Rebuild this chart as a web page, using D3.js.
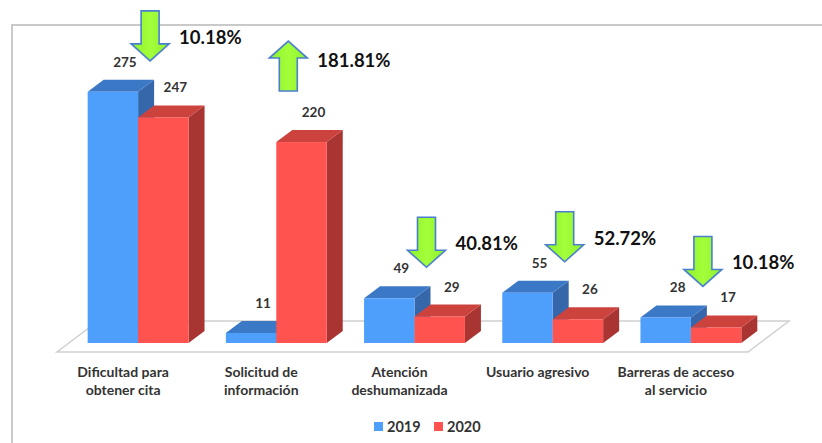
<!DOCTYPE html>
<html>
<head>
<meta charset="utf-8">
<script src="https://cdn.jsdelivr.net/npm/d3@7"></script>
<style>
  body { margin: 0; background: #fff; }
  svg { display: block; font-family: Lato, "Open Sans", sans-serif; }
</style>
</head>
<body>
<svg id="chart" width="822" height="443"></svg>
<script>
// chart values
var categories = [
  ["Dificultad para", "obtener cita"],
  ["Solicitud de", "información"],
  ["Atención", "deshumanizada"],
  ["Usuario agresivo"],
  ["Barreras de acceso", "al servicio"]
];
var series = ["2019", "2020"];
var values2019 = [275, 11, 49, 55, 28];
var values2020 = [247, 220, 29, 26, 17];
var changeLabels = ["10.18%", "181.81%", "40.81%", "52.72%", "10.18%"];
var changeDirection = ["down", "up", "down", "down", "down"];

var svg = d3.select("#chart");

// colours for the faces
var colors = {
  "2019": { front: "#4d9ffb", top: "#3b78c6", side: "#3567aa" },
  "2020": { front: "#ff5350", top: "#cc423d", side: "#a83531" }
};

// floor / depth
var floorLeft = 57, floorRight = 748, floorFront = 352;
var floorDx = 41, floorDy = -31;
var barDx = 16, barDy = -12;          // depth of one bar
var offX = 12, offY = -9;             // bars sit in the middle of the floor

var x0 = d3.scaleBand().domain(d3.range(categories.length)).range([floorLeft, floorRight]);
var x1 = d3.scaleBand().domain(series).range([0, x0.bandwidth()]).paddingOuter(0.37);
var y = d3.scaleLinear().domain([0, 300]).range([floorFront, floorFront - 274]);

// frame
svg.append("path")
  .attr("d", "M12,443 L12,25 L822,25")
  .attr("fill", "none")
  .attr("stroke", "#c9c9c9")
  .attr("stroke-width", 2);

// floor
svg.append("path")
  .attr("d", "M" + floorLeft + "," + floorFront +
             " L" + floorRight + "," + floorFront +
             " L" + (floorRight + floorDx) + "," + (floorFront + floorDy) +
             " L" + (floorLeft + floorDx) + "," + (floorFront + floorDy) + " Z")
  .attr("fill", "#fff")
  .attr("stroke", "#d0d0d0")
  .attr("stroke-width", 1.5);

var rows = categories.map(function (c, i) {
  return { i: i, vals: [values2019[i], values2020[i]] };
});

var group = svg.selectAll("g.cat").data(rows).enter().append("g").attr("class", "cat");

// bars: draw blue then red so red front covers blue side
group.each(function (d) {
  var g = d3.select(this);
  series.forEach(function (s, k) {
    var v = d.vals[k];
    var xl = x0(d.i) + x1(s) + offX;
    var xr = xl + x1.bandwidth();
    var yb = y(0) + offY;
    var yt = y(v) + offY;
    var c = colors[s];
    // side face
    g.append("path")
      .attr("d", "M" + xr + "," + yb + " L" + xr + "," + yt +
                 " L" + (xr + barDx) + "," + (yt + barDy) +
                 " L" + (xr + barDx) + "," + (yb + barDy) + " Z")
      .attr("fill", c.side);
    // top face
    g.append("path")
      .attr("d", "M" + xl + "," + yt + " L" + xr + "," + yt +
                 " L" + (xr + barDx) + "," + (yt + barDy) +
                 " L" + (xl + barDx) + "," + (yt + barDy) + " Z")
      .attr("fill", c.top);
    // front face
    g.append("rect")
      .attr("x", xl).attr("y", yt)
      .attr("width", x1.bandwidth()).attr("height", yb - yt)
      .attr("fill", c.front);
  });
});

// value labels
function labelPos(i, k) {
  var s = series[k];
  var v = [values2019[i], values2020[i]][k];
  return {
    x: x0(i) + x1(s) + offX + x1.bandwidth() / 2 + barDx / 2 + 4,
    y: y(v) + offY + barDy - 13
  };
}

group.each(function (d) {
  var g = d3.select(this);
  series.forEach(function (s, k) {
    var p = labelPos(d.i, k);
    g.append("text")
      .attr("x", p.x).attr("y", p.y)
      .attr("text-anchor", "middle")
      .attr("font-size", 13.5)
      .attr("font-weight", 700)
      .attr("fill", "#333")
      .text(d.vals[k]);
  });
});

// category labels
group.append("text")
  .attr("text-anchor", "middle")
  .attr("font-size", 14)
  .attr("font-weight", 700)
  .attr("fill", "#333")
  .each(function (d) {
    var t = d3.select(this);
    var cx = x0(d.i) + x0.bandwidth() / 2 - 3;
    categories[d.i].forEach(function (line, j) {
      t.append("tspan").attr("x", cx).attr("y", 377 + j * 18).text(line);
    });
  });

// change arrows
function arrowPath(cx, yTop, dir) {
  var len = 50, sw = 9, hw = 19, hh = 17;
  var pts;
  if (dir === "down") {
    var yb = yTop + len;
    pts = [[cx - sw, yTop], [cx + sw, yTop], [cx + sw, yb - hh], [cx + hw, yb - hh],
           [cx, yb], [cx - hw, yb - hh], [cx - sw, yb - hh]];
  } else {
    var yb2 = yTop + len;
    pts = [[cx, yTop], [cx + hw, yTop + hh], [cx + sw, yTop + hh], [cx + sw, yb2],
           [cx - sw, yb2], [cx - sw, yTop + hh], [cx - hw, yTop + hh]];
  }
  return "M" + pts.map(function (p) { return p.join(","); }).join(" L") + " Z";
}

var defs = svg.append("defs");
var grad = defs.append("linearGradient").attr("id", "gr").attr("x1", 0).attr("x2", 1);
grad.append("stop").attr("offset", "0").attr("stop-color", "#8df22c");
grad.append("stop").attr("offset", "0.5").attr("stop-color", "#a3ff3a");
grad.append("stop").attr("offset", "1").attr("stop-color", "#8ef02e");

var ann = svg.append("g").attr("class", "annotations");
categories.forEach(function (c, i) {
  var a = labelPos(i, 0), b = labelPos(i, 1);
  var cx = (a.x + b.x) / 2;
  var hi = Math.min(a.y, b.y);
  var down = changeDirection[i] === "down";
  var yTop = down ? hi - 6 - 50 : b.y - 26 - 50;
  ann.append("path")
    .attr("d", arrowPath(cx, yTop, changeDirection[i]))
    .attr("fill", "url(#gr)")
    .attr("stroke", "#4a7fd0")
    .attr("stroke-width", 1.6)
    .attr("stroke-linejoin", "miter");
  ann.append("text")
    .attr("x", cx + 29)
    .attr("y", yTop + (down ? 33 : 26))
    .attr("font-size", 18.5)
    .attr("font-weight", 700)
    .attr("fill", "#111")
    .text(changeLabels[i]);
});

// legend
var legend = svg.append("g").attr("transform", "translate(374,420)");
series.forEach(function (s, k) {
  var lg = legend.append("g").attr("transform", "translate(" + (k * 60) + ",0)");
  lg.append("rect").attr("width", 9).attr("height", 9).attr("y", 2).attr("fill", colors[s].front);
  lg.append("text").attr("x", 13).attr("y", 11.5)
    .attr("font-size", 14.5).attr("font-weight", 700).attr("fill", "#333").text(s);
});
</script>
</body>
</html>
